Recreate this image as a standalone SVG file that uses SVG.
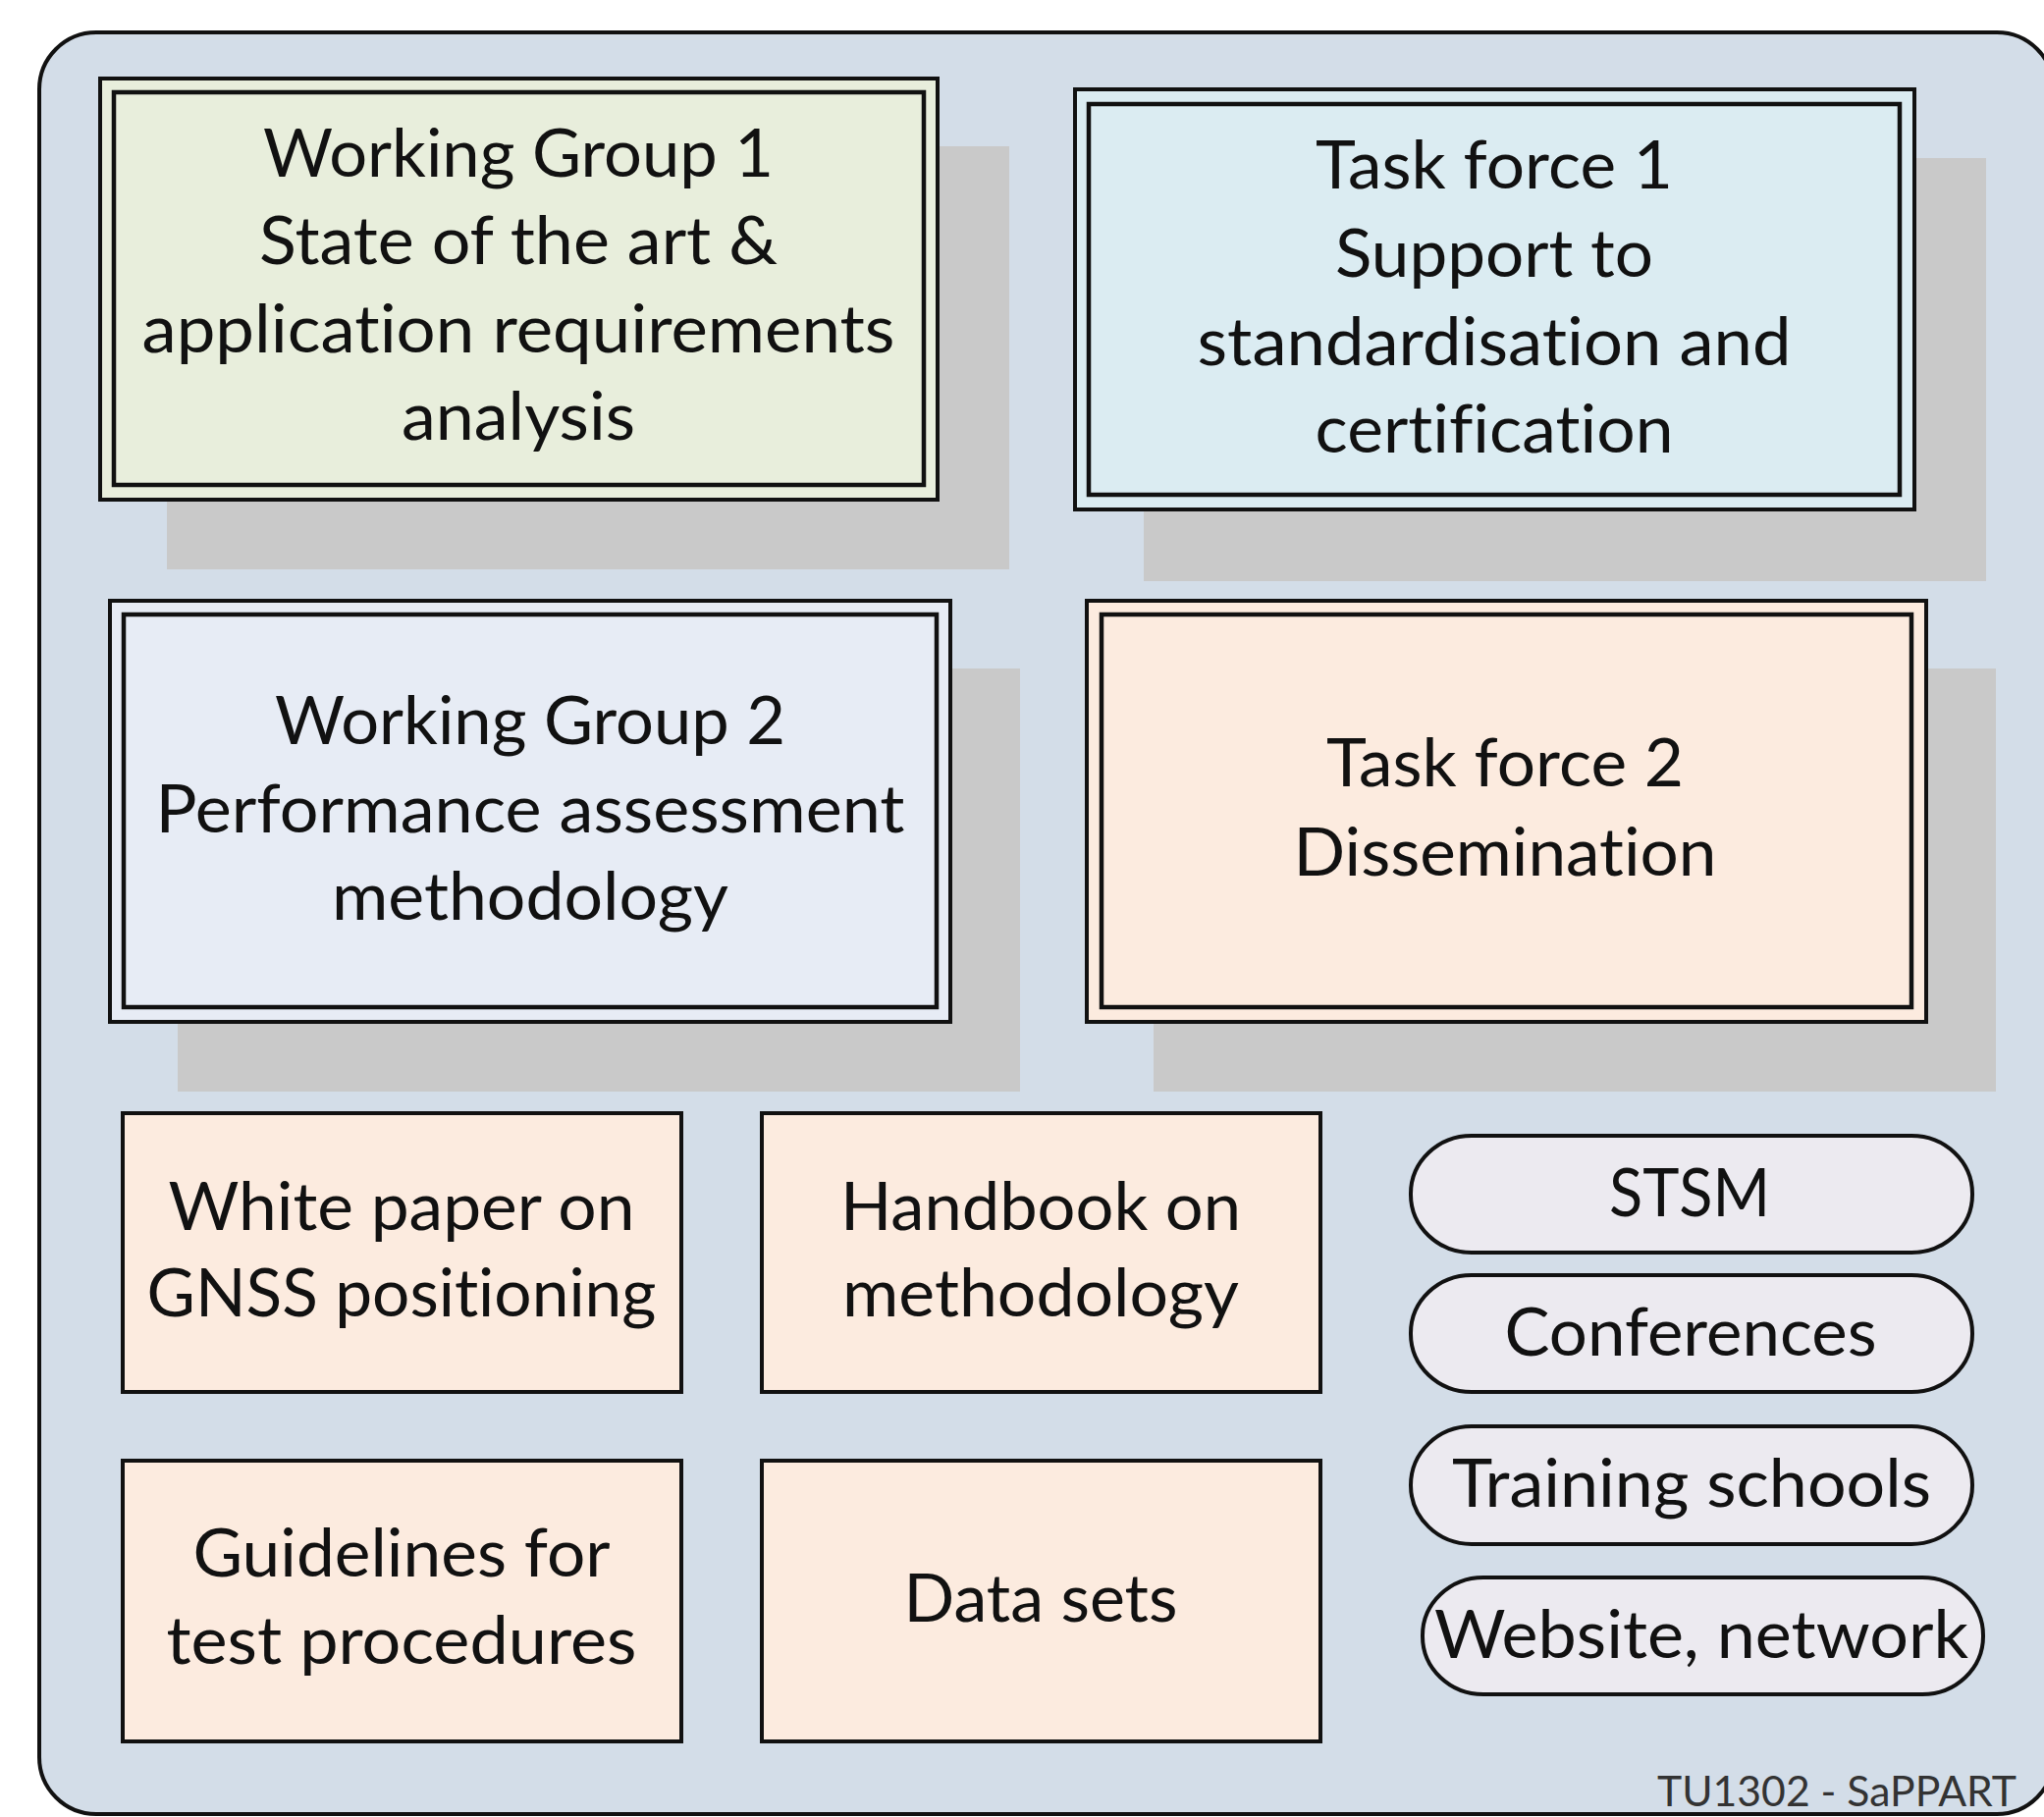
<svg xmlns="http://www.w3.org/2000/svg" width="2082" height="1851" viewBox="0 0 2082 1851">
<style>
  .frame { fill: #d3dde8; stroke: #111; stroke-width: 4; }
  .shadow { fill: #c9c9c9; stroke: none; }
  .outer { stroke: #111; stroke-width: 4; }
  .inner { fill: none; stroke: #111; stroke-width: 4.5; }
  .box { fill: #fcebdf; stroke: #111; stroke-width: 4; }
  .pill { fill: #eceaf0; stroke: #111; stroke-width: 4; }
  .green { fill: #e8eedc; }
  .cyan { fill: #dbecf2; }
  .blue { fill: #e7ecf5; }
  .peach { fill: #fcebdf; }
  text { font-family: Lato, "Open Sans", "Liberation Sans", sans-serif; font-size: 67px; fill: #111; text-anchor: middle; font-variant-ligatures: none; }
  .credit { font-size: 42px; fill: #333; text-anchor: start; }
</style>
<rect class="frame" x="40" y="33" width="2052" height="1815" rx="58" ry="58"/>

<g id="wg1">
  <rect class="shadow" x="170" y="149" width="858" height="431"/>
  <rect class="outer green" x="102" y="80" width="853" height="429"/>
  <rect class="inner" x="116" y="94" width="825" height="400"/>
  <text x="528" y="180" textLength="520" lengthAdjust="spacingAndGlyphs">Working Group 1</text>
  <text x="528" y="269" textLength="528" lengthAdjust="spacingAndGlyphs">State of the art &amp;</text>
  <text x="528" y="359" textLength="767" lengthAdjust="spacingAndGlyphs">application requirements</text>
  <text x="528" y="448" textLength="238" lengthAdjust="spacingAndGlyphs">analysis</text>
</g>

<g id="tf1">
  <rect class="shadow" x="1165" y="161" width="858" height="431"/>
  <rect class="outer cyan" x="1095" y="91" width="855" height="428"/>
  <rect class="inner" x="1109" y="106" width="826" height="398"/>
  <text x="1522" y="192" textLength="364" lengthAdjust="spacingAndGlyphs">Task force 1</text>
  <text x="1522" y="282" textLength="324" lengthAdjust="spacingAndGlyphs">Support to</text>
  <text x="1522" y="372" textLength="605" lengthAdjust="spacingAndGlyphs">standardisation and</text>
  <text x="1522" y="461" textLength="365" lengthAdjust="spacingAndGlyphs">certification</text>
</g>

<g id="wg2">
  <rect class="shadow" x="181" y="681" width="858" height="431"/>
  <rect class="outer blue" x="112" y="612" width="856" height="429"/>
  <rect class="inner" x="126" y="626" width="828" height="400"/>
  <text x="540" y="758" textLength="520" lengthAdjust="spacingAndGlyphs">Working Group 2</text>
  <text x="540" y="848" textLength="763" lengthAdjust="spacingAndGlyphs">Performance assessment</text>
  <text x="540" y="937" textLength="404" lengthAdjust="spacingAndGlyphs">methodology</text>
</g>

<g id="tf2">
  <rect class="shadow" x="1175" y="681" width="858" height="431"/>
  <rect class="outer peach" x="1107" y="612" width="855" height="429"/>
  <rect class="inner" x="1122" y="626" width="825" height="400"/>
  <text x="1533" y="801" textLength="364" lengthAdjust="spacingAndGlyphs">Task force 2</text>
  <text x="1533" y="892" textLength="431" lengthAdjust="spacingAndGlyphs">Dissemination</text>
</g>

<g id="whitepaper">
  <rect class="box" x="125" y="1134" width="569" height="284"/>
  <text x="409" y="1253" textLength="475" lengthAdjust="spacingAndGlyphs">White paper on</text>
  <text x="409" y="1341" textLength="519" lengthAdjust="spacingAndGlyphs">GNSS positioning</text>
</g>

<g id="handbook">
  <rect class="box" x="776" y="1134" width="569" height="284"/>
  <text x="1060" y="1253" textLength="408" lengthAdjust="spacingAndGlyphs">Handbook on</text>
  <text x="1060" y="1341" textLength="404" lengthAdjust="spacingAndGlyphs">methodology</text>
</g>

<g id="guidelines">
  <rect class="box" x="125" y="1488" width="569" height="286"/>
  <text x="409" y="1606" textLength="425" lengthAdjust="spacingAndGlyphs">Guidelines for</text>
  <text x="409" y="1695" textLength="479" lengthAdjust="spacingAndGlyphs">test procedures</text>
</g>

<g id="datasets">
  <rect class="box" x="776" y="1488" width="569" height="286"/>
  <text x="1060" y="1652" textLength="279" lengthAdjust="spacingAndGlyphs">Data sets</text>
</g>

<g id="stsm">
  <rect class="pill" x="1437" y="1157" width="572" height="119" rx="62" ry="59"/>
  <text x="1721" y="1239" textLength="164" lengthAdjust="spacingAndGlyphs">STSM</text>
</g>

<g id="conferences">
  <rect class="pill" x="1437" y="1299" width="572" height="119" rx="62" ry="59"/>
  <text x="1722" y="1381" textLength="379" lengthAdjust="spacingAndGlyphs">Conferences</text>
</g>

<g id="training">
  <rect class="pill" x="1437" y="1453" width="572" height="120" rx="62" ry="60"/>
  <text x="1723" y="1535" textLength="488" lengthAdjust="spacingAndGlyphs">Training schools</text>
</g>

<g id="website">
  <rect class="pill" x="1449" y="1607" width="571" height="119" rx="62" ry="59"/>
  <text x="1733" y="1689" textLength="544" lengthAdjust="spacingAndGlyphs">Website, network</text>
</g>

<g id="connectors"></g>

<text class="credit" x="1688" y="1840" textLength="366" lengthAdjust="spacingAndGlyphs">TU1302 - SaPPART</text>
</svg>
